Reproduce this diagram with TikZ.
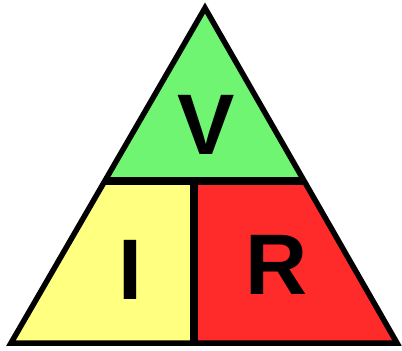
\documentclass[tikz,border=0pt]{standalone}
\usepackage{fontspec}
\setmainfont{Liberation Sans}

\definecolor{vgreen}{RGB}{112,245,115}
\definecolor{iyellow}{RGB}{255,255,128}
\definecolor{rred}{RGB}{255,42,42}

\begin{document}
\begin{tikzpicture}[x=1pt,y=-1pt, line join=miter,
        edge line/.style={draw=black, line width=5.5pt},
        bar line/.style={draw=black, line width=7.5pt},
        letter/.style={anchor=base, inner sep=0pt, font=\bfseries\fontsize{86}{86}\selectfont}]

            \useasboundingbox (0,0) rectangle (402,351);

            % Corners

            \coordinate (top) at (205,8);
            \coordinate (bl) at (11,343);
            \coordinate (br) at (397,343);
            \coordinate (ml) at (104.8,181);
            \coordinate (mr) at (304.2,181);
            \coordinate (mc) at (194,181);
            \coordinate (bc) at (194,343);

            % Parts

            \fill[vgreen] (top) -- (mr) -- (ml) -- cycle;
            \fill[iyellow] (ml) -- (mc) -- (bc) -- (bl) -- cycle;
            \fill[rred] (mc) -- (mr) -- (br) -- (bc) -- cycle;

            % Lines

            \path[bar line] (ml) -- (mr);
            \path[bar line] (mc) -- (bc);
            \path[edge line] (top) -- (br) -- (bl) -- cycle;

            % Letters

            \node [letter] (v) at (206.5,154) {V};
            \node [letter] (i) at (130,299) {I};
            \node [letter] (r) at (276.5,294) {R};
        \end{tikzpicture}
\end{document}
